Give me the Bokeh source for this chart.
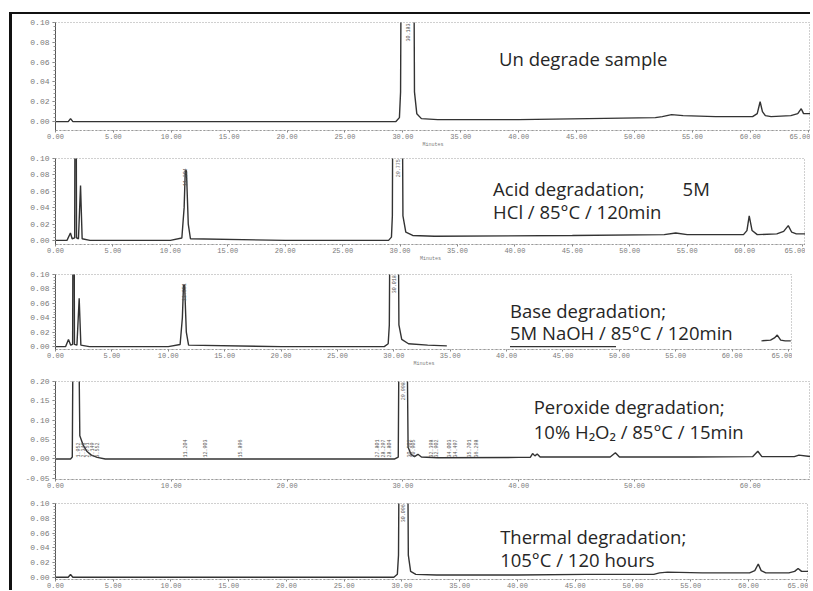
import math
from bokeh.plotting import figure
from bokeh.layouts import column
from bokeh.models import Range1d, FixedTicker, PrintfTickFormatter, Label
from bokeh.core.properties import value
from bokeh.embed import file_html
from bokeh.resources import INLINE

NaN = float("nan")

# ---------------- data (retention time in minutes, absorbance in AU) ----------------
# Panel 1: un-degraded sample
t1 = [0.0, 1.1, 1.3, 1.5, 1.8, 5.0, 15.0, 25.0, 29.4, 29.7, 29.8, 29.9, 30.9, 31.0, 31.2, 31.6,
      33.0, 40.0, 46.0, 51.8, 52.4, 53.2, 54.2, 57.0, 60.2, 60.6, 60.85, 61.05, 61.3, 61.8, 63.5, 64.1,
      64.4, 64.6, 65.2]
a1 = [0.0, 0.0, 0.003, 0.0, 0.0, 0.0, 0.0, 0.0, 0.0, 0.004, 0.03, 0.30, 0.30, 0.03, 0.008, 0.003,
      0.002, 0.002, 0.003, 0.004, 0.005, 0.007, 0.006, 0.005, 0.005, 0.008, 0.020, 0.010, 0.006, 0.005, 0.006, 0.008,
      0.013, 0.008, 0.008]

# Panel 2: acid degradation
t2 = [0.0, 1.0, 1.3, 1.45, 1.67, 1.75, 1.83, 2.0, 2.18, 2.32, 3.0, 10.0, 11.0, 11.2, 11.3, 11.4,
      11.56, 11.75, 20.0, 29.0, 29.25, 29.33, 29.4, 30.15, 30.25, 30.5, 31.1, 33.0, 45.0, 53.0, 54.0, 55.0,
      59.9, 60.2, 60.4, 60.65, 61.1, 62.8, 63.4, 63.8, 64.1, 64.5, 65.3]
a2 = [0.0, 0.0, 0.009, 0.002, 0.003, 0.50, 0.003, 0.002, 0.067, 0.002, 0.0, 0.0, 0.003, 0.04, 0.085, 0.085,
      0.02, 0.002, 0.0, 0.0, 0.004, 0.03, 0.30, 0.30, 0.03, 0.01, 0.006, 0.005, 0.006, 0.007, 0.009, 0.007,
      0.007, 0.012, 0.030, 0.012, 0.007, 0.008, 0.011, 0.018, 0.010, 0.008, 0.008]

# Panel 3: base degradation (trace hidden behind the caption between gaps)
t3 = [0.0, 0.9, 1.15, 1.35, 1.52, 1.6, 1.68, 1.9, 2.1, 2.25, 3.0, 10.0, 11.05, 11.25, 11.35, 11.45,
      11.6, 11.8, 20.0, 29.15, 29.5, 29.6, 29.7, 30.35, 30.45, 30.7, 31.3, 33.0, 34.7, 37.5,
      40.3, 49.7, 56.0, 62.6, 63.4, 63.75, 64.0, 64.3, 64.7, 65.2]
a3 = [0.0, 0.0, 0.010, 0.002, 0.003, 0.50, 0.003, 0.002, 0.067, 0.002, 0.0, 0.0, 0.003, 0.04, 0.085, 0.085,
      0.02, 0.002, 0.0, 0.0, 0.004, 0.03, 0.30, 0.30, 0.03, 0.01, 0.004, 0.002, 0.001, NaN,
      0.0, 0.0, NaN, 0.008, 0.009, 0.012, 0.016, 0.009, 0.008, 0.008]

# Panel 4: peroxide degradation
t4 = [0.0, 1.3, 1.45, 1.55, 1.95, 2.1, 2.4, 2.7, 3.1, 3.6, 4.3, 10.0, 20.0, 29.3, 29.6, 29.7,
      30.3, 30.45, 30.7, 31.0, 31.3, 31.6, 33.0, 40.0, 41.0, 41.2, 41.4, 41.6, 41.85, 47.9, 48.35, 48.7,
      55.0, 60.2, 60.65, 61.0, 63.8, 64.2, 65.2]
a4 = [0.0, 0.0, 0.005, 0.50, 0.50, 0.06, 0.035, 0.02, 0.01, 0.004, 0.0, 0.0, 0.0, 0.0, 0.005, 0.50,
      0.50, 0.03, 0.012, 0.006, 0.012, 0.005, 0.003, 0.004, 0.004, 0.014, 0.008, 0.013, 0.005, 0.005, 0.016, 0.005,
      0.005, 0.006, 0.020, 0.006, 0.006, 0.010, 0.006]

# Panel 5: thermal degradation
t5 = [0.0, 1.1, 1.3, 1.5, 1.8, 5.0, 15.0, 25.0, 29.3, 29.6, 29.7, 29.8, 30.45, 30.55, 30.75, 31.2,
      33.0, 40.0, 46.0, 51.8, 52.3, 53.0, 56.0, 60.1, 60.55, 60.85, 61.1, 61.5, 63.5, 64.0, 64.3, 64.6, 65.2]
a5 = [0.0, 0.0, 0.004, 0.0, 0.0, 0.0, 0.0, 0.0, 0.0, 0.004, 0.03, 0.30, 0.30, 0.03, 0.008, 0.004,
      0.003, 0.003, 0.004, 0.004, 0.006, 0.007, 0.006, 0.006, 0.009, 0.018, 0.009, 0.006, 0.006, 0.008, 0.012, 0.008, 0.008]

# peak retention-time labels printed by the data system
pk1_t, pk1_txt = [30.4], ["30.183"]
pk2_t, pk2_txt = [11.3, 29.8], ["11.304", "29.775"]
pk3_t, pk3_txt = [11.35, 30.0], ["11.351", "30.018"]
pk5_t, pk5_txt = [30.1], ["30.096"]
pk4_t = [1.95, 2.35, 2.75, 3.15, 3.55, 11.2, 12.9, 15.9, 27.8, 28.3, 28.8, 30.5, 30.9,
         32.4, 32.9, 34.0, 34.5, 35.7, 36.3]
pk4_txt = ["1.952", "2.348", "2.751", "3.149", "3.552", "11.204", "12.903", "15.896", "27.801",
           "28.297", "28.804", "30.502", "30.905", "32.398", "32.902", "34.003", "34.497",
           "35.701", "36.298"]
pk4_top_t, pk4_top_txt = [30.0], ["29.998"]

x_ticks_5 = [0, 5, 10, 15, 20, 25, 30, 35, 40, 45, 50, 55, 60, 65]
x_ticks_10 = [0, 10, 20, 30, 40, 50, 60]
y_ticks_a = [0.0, 0.02, 0.04, 0.06, 0.08, 0.10]
y_ticks_b = [-0.05, 0.0, 0.05, 0.10, 0.15, 0.20]

TICK_FONT = "Liberation Mono"
TEXT_FONT = "Open Sans"
TEXT_SIZE = "18.5px"
TEXT_COLOR = "#262626"
TRACE = "#333333"


def make_panel(t, a, xr, yr, xt, yt, minor_step, fw, fh, top, bottom, right, minutes):
    p = figure(frame_width=fw, frame_height=fh, x_range=Range1d(*xr), y_range=Range1d(*yr),
               output_backend="svg", toolbar_location=None, title=None,
               min_border_left=43, min_border_right=right, min_border_top=top, min_border_bottom=bottom,
               background_fill_color="white", border_fill_color="white")
    p.grid.visible = False
    p.outline_line_color = "#a0a0a0"
    p.outline_line_dash = "1 2"
    p.outline_line_width = 1

    xa = p.xaxis[0]
    xa.ticker = FixedTicker(ticks=xt)
    xa.formatter = PrintfTickFormatter(format="%.2f")
    xa.major_label_text_font = TICK_FONT
    xa.major_label_text_font_size = "7px"
    xa.major_label_text_color = "#7a7a7a"
    xa.major_label_standoff = 1
    xa.axis_line_color = "#9a9a9a"
    xa.axis_line_dash = "2 2"
    xa.major_tick_in = 0
    xa.major_tick_out = 2
    xa.major_tick_line_color = "#888888"
    xa.minor_tick_line_color = None
    if minutes:
        xa.axis_label = "Minutes"
        xa.axis_label_text_font = TICK_FONT
        xa.axis_label_text_font_size = "5px"
        xa.axis_label_text_font_style = "normal"
        xa.axis_label_text_color = "#7a7a7a"
        xa.axis_label_standoff = 0

    ya = p.yaxis[0]
    lo, hi = yt[0], yt[-1]
    n = int(round((hi - lo) / minor_step))
    ya.ticker = FixedTicker(ticks=yt, minor_ticks=[lo + i * minor_step for i in range(n + 1)])
    ya.formatter = PrintfTickFormatter(format="%.2f")
    ya.major_label_text_font = TICK_FONT
    ya.major_label_text_font_size = "8px"
    ya.major_label_text_color = "#7a7a7a"
    ya.major_label_standoff = 3
    ya.axis_line_color = "#555555"
    ya.major_tick_in = 0
    ya.major_tick_out = 3
    ya.minor_tick_in = 0
    ya.minor_tick_out = 2
    ya.major_tick_line_color = "#777777"
    ya.minor_tick_line_color = "#999999"

    p.line(t, a, line_color=TRACE, line_width=1.4)
    return p


def peak_labels(p, xs, ys, txt, align):
    p.text(x=xs, y=ys, text=txt, angle=math.pi / 2, text_font=value(TICK_FONT),
           text_font_size="5px", text_color="#555555", text_align=align, text_baseline="middle")


def note(p, x, y, text):
    p.add_layout(Label(x=x, y=y, text=text, text_font=TEXT_FONT, text_font_size=TEXT_SIZE,
                       text_color=TEXT_COLOR, text_baseline="middle", text_align="left"))


p1 = make_panel(t1, a1, (0, 65.2), (-0.009, 0.100), x_ticks_5, y_ticks_a, 0.004, 755, 108, 8, 19, 0, True)
peak_labels(p1, pk1_t, [0.099] * len(pk1_t), pk1_txt, "right")
note(p1, 38.3, 0.064, "Un degrade sample")

p2 = make_panel(t2, a2, (0, 65.3), (-0.005, 0.100), x_ticks_5, y_ticks_a, 0.004, 750, 86, 8, 20, 0, True)
peak_labels(p2, pk2_t, [0.088, 0.099], pk2_txt, "right")
note(p2, 38.1, 0.0634, "Acid degradation;")
note(p2, 54.6, 0.0634, "5M")
note(p2, 38.1, 0.0354, "HCl / 85°C / 120min")

p3 = make_panel(t3, a3, (0, 65.35), (-0.004, 0.100), x_ticks_5, y_ticks_a, 0.004, 737, 75, 10, 19, 0, True)
peak_labels(p3, pk3_t, [0.088, 0.099], pk3_txt, "right")
note(p3, 40.3, 0.0507, "Base degradation;")
note(p3, 40.3, 0.0192, "5M NaOH / 85°C / 120min")

p4 = make_panel(t4, a4, (0, 65.2), (-0.053, 0.200), x_ticks_10, y_ticks_b, 0.01, 755, 98, 12, 18, 0, False)
peak_labels(p4, pk4_t, [0.004] * len(pk4_t), pk4_txt, "left")
peak_labels(p4, pk4_top_t, [0.198], pk4_top_txt, "right")
note(p4, 41.3, 0.136, "Peroxide degradation;")
note(p4, 41.3, 0.072, "10% H\u2082O\u2082 / 85°C / 15min")

p5 = make_panel(t5, a5, (0, 65.2), (-0.003, 0.100), x_ticks_5, y_ticks_a, 0.004, 753, 76, 6, 9, 0, False)
peak_labels(p5, pk5_t, [0.099], pk5_txt, "right")
note(p5, 38.5, 0.0554, "Thermal degradation;")
note(p5, 38.5, 0.0243, "105°C / 120 hours")

layout = column(p1, p2, p3, p4, p5, spacing=0, margin=(12, 0, 0, 9),
                styles={"border-top": "2px solid #111111", "border-left": "3px solid #111111"})

open("out.html", "w").write(file_html(layout, INLINE))
